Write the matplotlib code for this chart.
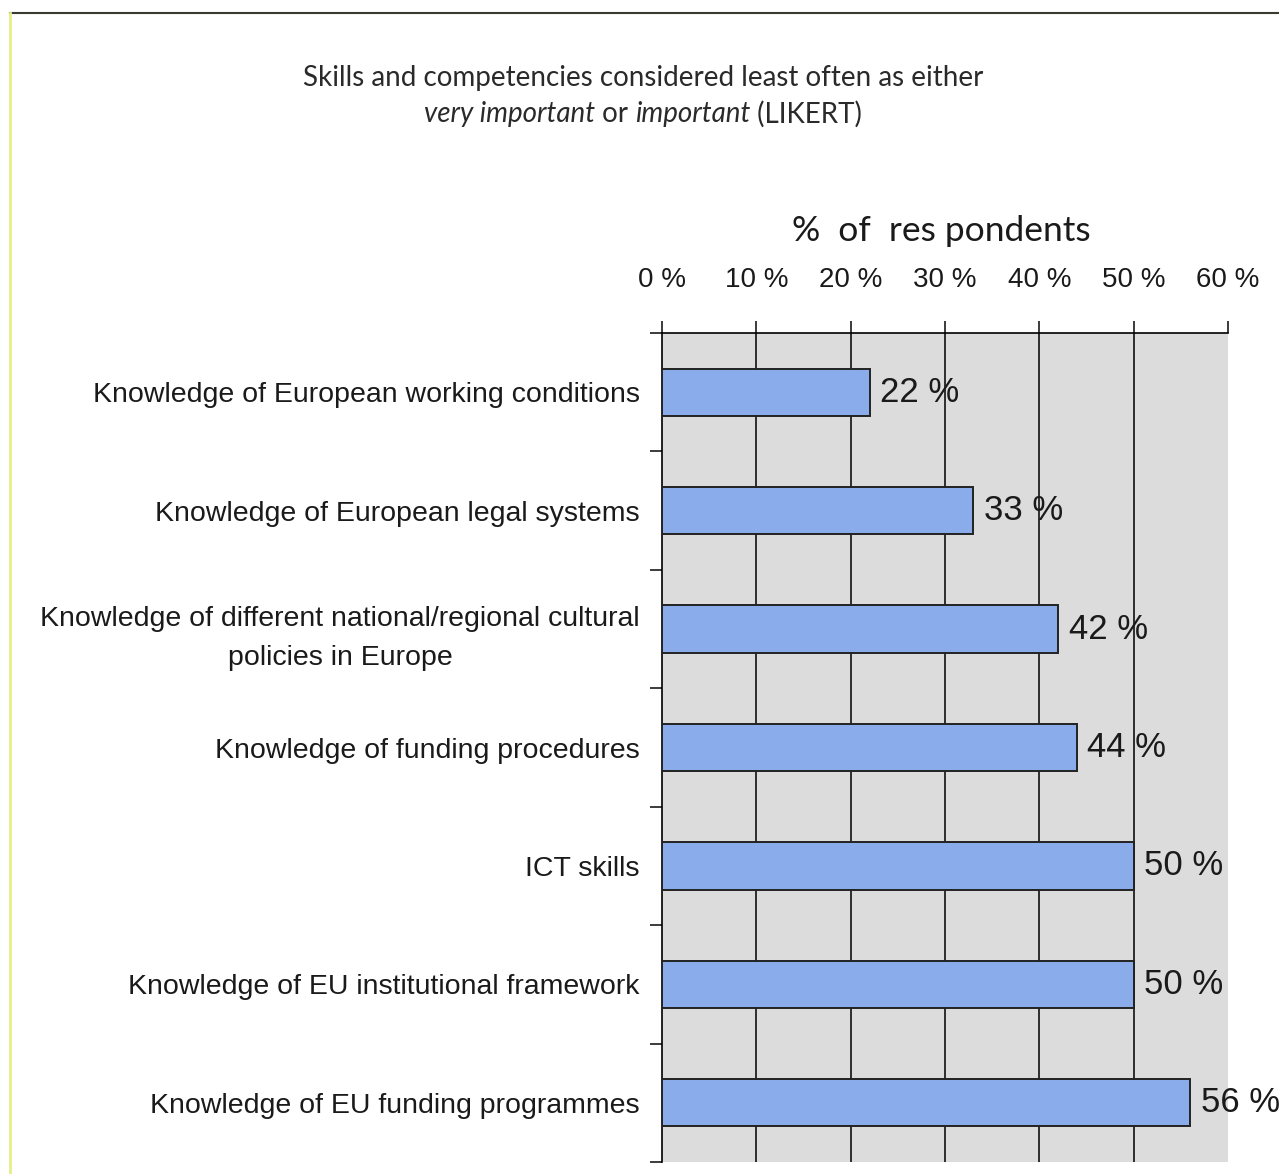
import matplotlib.pyplot as plt
from matplotlib.lines import Line2D

plt.rcParams['font.family'] = ['Liberation Sans', 'DejaVu Sans']

skills = [
    "Knowledge of European working conditions",
    "Knowledge of European legal systems",
    "Knowledge of different national/regional cultural\npolicies in Europe",
    "Knowledge of funding procedures",
    "ICT skills",
    "Knowledge of EU institutional framework",
    "Knowledge of EU funding programmes",
]
pct = [22, 33, 42, 44, 50, 50, 56]
xticks = [0, 10, 20, 30, 40, 50, 60]
xtick_labels = ["%d %%" % t for t in xticks]

W, H = 1279, 1174
fig = plt.figure(figsize=(W / 100, H / 100), dpi=100)
ax = fig.add_axes([662 / W, 1 - 1162 / H, 566 / W, 829 / H])

pos = list(range(len(skills)))
ax.set_facecolor('#dcdcdc')
ax.barh(pos, pct, height=0.4, color='#8aacea', edgecolor='#222222', linewidth=1.4, zorder=3)
for p, v in zip(pos, pct):
    ax.text(v + 1.1, p, "%d %%" % v, va='center', ha='left', fontsize=25, color='#1a1a1a', zorder=4)

# inner gridlines only, the last column has no closing line
for t in xticks[1:-1]:
    ax.axvline(t, color='#111111', linewidth=1.2, zorder=1)

ax.set_xlim(0, 60)
ax.set_ylim(len(skills) - 0.5, -0.5)
ax.xaxis.tick_top()
ax.set_xticks(xticks)
ax.set_xticklabels(xtick_labels, fontsize=20, color='#1a1a1a')
ax.tick_params(axis='x', length=9, width=1.2, pad=20, colors='#1a1a1a')

# boundary ticks on the category axis, labels sit between them
ax.set_yticks([p - 0.5 for p in pos] + [len(skills) - 0.5])
ax.set_yticklabels([])
ax.set_yticks(pos, minor=True)
ax.set_yticklabels(skills, minor=True, fontsize=20.5, color='#1a1a1a',
                   multialignment='center', linespacing=1.65)
ax.tick_params(axis='y', which='major', length=9, width=1.2, colors='#1a1a1a')
ax.tick_params(axis='y', which='minor', length=0, pad=16)

for s in ['right', 'bottom']:
    ax.spines[s].set_visible(False)
ax.spines['top'].set_linewidth(1.2)
ax.spines['left'].set_linewidth(1.2)

fig.text(941 / W, 1 - 231 / H, "%  of  res pondents", ha='center', va='center',
         fontsize=25.5, color='#1a1a1a', family='Lato')

# two-line heading, second line mixes italic and upright pieces
fs = 20
fig.text(643 / W, 1 - 78 / H, "Skills and competencies considered least often as either",
         ha='center', va='center', fontsize=fs, color='#2a2a2a', family='Lato')
pieces = [("very important", 'italic'), (" or ", 'normal'), ("important", 'italic'), (" (LIKERT)", 'normal')]
r = fig.canvas.get_renderer()
tmp = [fig.text(0, 0, s, fontsize=fs, family='Lato', style=st) for s, st in pieces]
widths = [t.get_window_extent(r).width for t in tmp]
for t in tmp:
    t.remove()
x = 643 - sum(widths) / 2
for (s, st), w in zip(pieces, widths):
    fig.text(x / W, 1 - 114 / H, s, ha='left', va='center', fontsize=fs,
             family='Lato', style=st, color='#2a2a2a')
    x += w

fig.add_artist(Line2D([10 / W, 1], [1 - 13 / H] * 2, color='#3a3a30', linewidth=1.5))
fig.add_artist(Line2D([10 / W, 10 / W], [0, 1 - 13 / H], color='#e6ee88', linewidth=2))

fig.savefig("out.png", dpi=100)
